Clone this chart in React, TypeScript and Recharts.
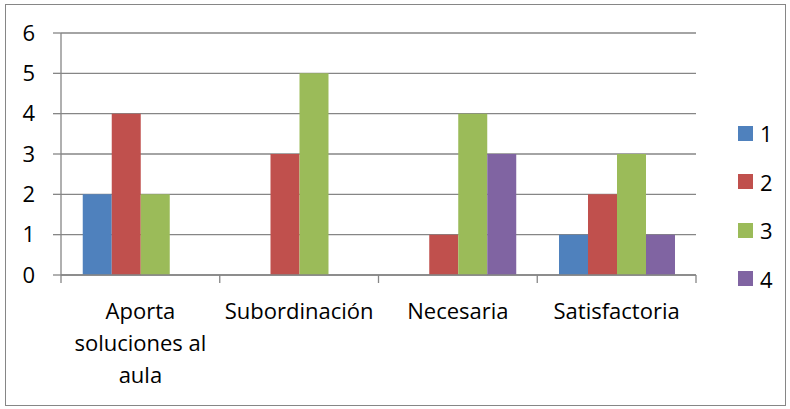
import React from "react";
import { BarChart, Bar, XAxis, YAxis, CartesianGrid } from "recharts";

const categories = ["Aporta soluciones al aula", "Subordinación", "Necesaria", "Satisfactoria"];
const categoryLines = [["Aporta", "soluciones al", "aula"], ["Subordinación"], ["Necesaria"], ["Satisfactoria"]];
const serie1 = [2, 0, 0, 1];
const serie2 = [4, 3, 1, 2];
const serie3 = [2, 5, 4, 3];
const serie4 = [0, 0, 3, 1];
const seriesNames = ["1", "2", "3", "4"];
const colors = ["#4F81BD", "#C0504D", "#9BBB59", "#8064A2"];
const yTicks = [0, 1, 2, 3, 4, 5, 6];

const data = categories.map((c, i) => ({
  name: c,
  s1: serie1[i],
  s2: serie2[i],
  s3: serie3[i],
  s4: serie4[i],
}));

const FONT = "'Open Sans', sans-serif";
const FS = 22;
const AXIS = "#868686";

function CategoryTick(props: any) {
  const { x, y, payload, index, visibleTicksCount } = props;
  const half = payload && payload.offset ? payload.offset : 79.25;
  const lines: string[] = categoryLines[index] || [String(payload.value)];
  return (
    <g>
      <line x1={x - half} x2={x - half} y1={y - 8} y2={y} stroke={AXIS} strokeWidth={1.3} />
      {index === visibleTicksCount - 1 && (
        <line x1={x + half} x2={x + half} y1={y - 8} y2={y} stroke={AXIS} strokeWidth={1.3} />
      )}
      {lines.map((l, i) => (
        <text key={i} x={x} y={y + 36 + i * 32} textAnchor="middle" fontSize={FS} fontFamily={FONT} fill="#000">
          {l}
        </text>
      ))}
    </g>
  );
}

function SideLegend() {
  return (
    <div style={{ position: "absolute", left: 738, top: 109 }}>
      {seriesNames.map((n, i) => (
        <div key={n} style={{ display: "flex", alignItems: "center", height: 48.5 }}>
          <div style={{ width: 15, height: 15, background: colors[i], marginRight: 7 }} />
          <span style={{ fontSize: FS, fontFamily: FONT, color: "#000" }}>{n}</span>
        </div>
      ))}
    </div>
  );
}

export default function App() {
  return (
    <div style={{ position: "absolute", left: 0, top: 0, width: 790, height: 409, background: "#fff" }}>
      <div style={{ position: "absolute", left: 5, top: 4, width: 779, height: 400, border: "1px solid #868686" }} />
      <div style={{ position: "absolute", left: 0, top: 0 }}>
        <BarChart
          width={790}
          height={409}
          data={data}
          margin={{ top: 33, right: 94, left: 8, bottom: 0 }}
          barCategoryGap="13.7%"
          barGap={0}
        >
          <CartesianGrid vertical={false} stroke={AXIS} strokeWidth={1.3} />
          <XAxis
            dataKey="name"
            axisLine={{ stroke: AXIS, strokeWidth: 1.3 }}
            tickLine={false}
            tick={<CategoryTick />}
            interval={0}
            height={134}
          />
          <YAxis
            domain={[0, 6]}
            ticks={yTicks}
            interval={0}
            width={53}
            tickSize={8}
            tickMargin={18}
            axisLine={{ stroke: AXIS, strokeWidth: 1.3 }}
            tickLine={{ stroke: AXIS, strokeWidth: 1.3 }}
            tick={{ fontSize: FS, fontFamily: FONT, fill: "#000" }}
          />
          <Bar dataKey="s1" name={seriesNames[0]} fill={colors[0]} isAnimationActive={false} />
          <Bar dataKey="s2" name={seriesNames[1]} fill={colors[1]} isAnimationActive={false} />
          <Bar dataKey="s3" name={seriesNames[2]} fill={colors[2]} isAnimationActive={false} />
          <Bar dataKey="s4" name={seriesNames[3]} fill={colors[3]} isAnimationActive={false} />
        </BarChart>
      </div>
      <SideLegend />
    </div>
  );
}
